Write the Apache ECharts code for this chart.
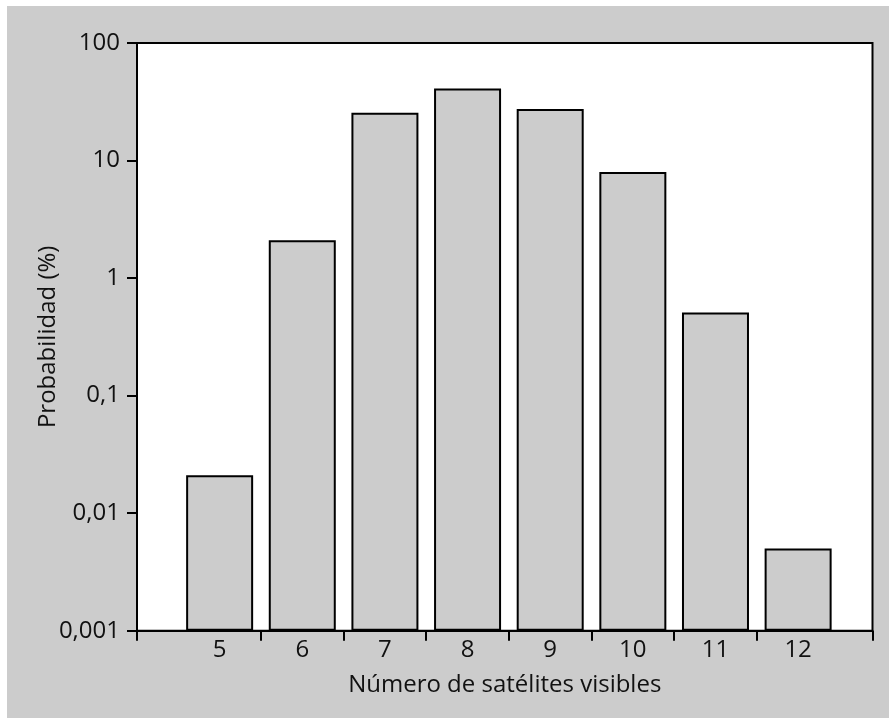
<!DOCTYPE html>
<html>
<head>
<meta charset="utf-8">
<script src="https://cdn.jsdelivr.net/npm/echarts@6/dist/echarts.min.js"></script>
<style>
  html, body { margin: 0; padding: 0; background: #ffffff; }
  #chart { position: absolute; left: 7px; top: 6px; width: 882px; height: 712px; }
</style>
</head>
<body>
<div id="chart"></div>
<script>
const categories = [5, 6, 7, 8, 9, 10, 11, 12];
const probabilities = [0.021, 2.1, 25.5, 41, 27.5, 8, 0.51, 0.005];
const xTickPositions = [4, 5.5, 6.5, 7.5, 8.5, 9.5, 10.5, 11.5, 12.9];
const yTickLabels = ['0,001', '0,01', '0,1', '1', '10', '100'];

const chart = echarts.init(document.getElementById('chart'));
const font = '"Open Sans", Lato, sans-serif';
const seriesData = categories.map((c, i) => [c, probabilities[i]]);

chart.setOption({
  backgroundColor: '#cccccc',
  animation: false,
  grid: {
    left: 130, top: 37, right: 16.5, bottom: 87.3,
    show: true, backgroundColor: '#ffffff', borderColor: '#000000', borderWidth: 2
  },
  xAxis: {
    type: 'value',
    min: 4, max: 12.9,
    name: 'Número de satélites visibles',
    nameLocation: 'middle',
    nameGap: 42,
    nameMoveOverlap: false,
    nameTextStyle: { fontFamily: font, fontSize: 24, color: '#111' },
    axisLine: { show: true, lineStyle: { color: '#000', width: 2 } },
    axisTick: { show: true, length: 10, lineStyle: { color: '#000', width: 2 }, customValues: xTickPositions },
    axisLabel: { fontFamily: font, fontSize: 24, color: '#111', margin: 7, customValues: categories },
    splitLine: { show: false }
  },
  yAxis: {
    type: 'log',
    logBase: 10,
    min: 0.001, max: 100,
    startValue: 0.001,
    name: 'Probabilidad (%)',
    nameLocation: 'middle',
    nameGap: 77,
    nameMoveOverlap: false,
    nameTextStyle: { fontFamily: font, fontSize: 24, color: '#111' },
    axisLine: { show: true, lineStyle: { color: '#000', width: 2 } },
    axisTick: { show: true, length: 10, lineStyle: { color: '#000', width: 2 } },
    axisLabel: {
      fontFamily: font, fontSize: 24, color: '#111', margin: 17,
      formatter: function (v) {
        const e = Math.round(Math.log10(v));
        return yTickLabels[e + 3];
      }
    },
    splitLine: { show: false }
  },
  series: [{
    type: 'bar',
    data: seriesData,
    barWidth: 67,
    itemStyle: { color: '#cccccc', borderColor: '#000000', borderWidth: 2 }
  }]
});
</script>
</body>
</html>
